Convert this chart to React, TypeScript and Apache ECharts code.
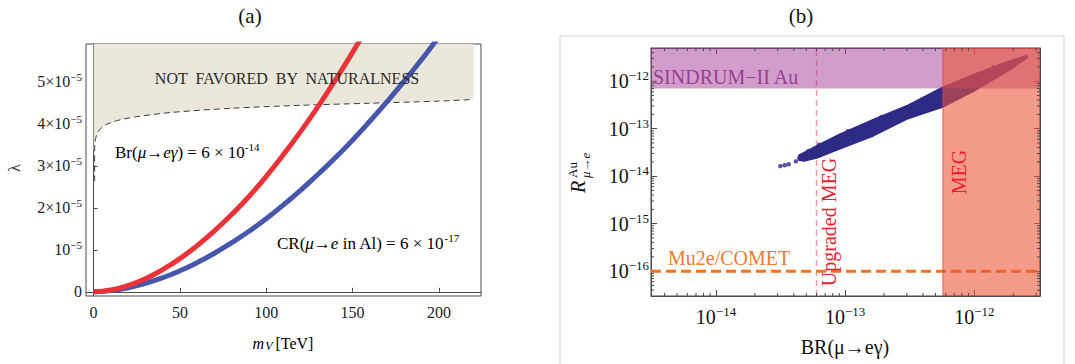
import React, { useEffect, useRef } from "react";
import * as echarts from "echarts";

const SERIF = "Liberation Serif, Times New Roman, serif";

// ---------- Panel (a) data ----------
const massRange = [-4.4, 224.4];
const lambdaRange = [-0.1e-5, 5.9e-5];
// Br(mu -> e gamma) = 6e-14 contour  [m_V (TeV), lambda]
const brCurve: [number, number][] = [
  [0, 0], [10, 0.044e-5], [20, 0.15e-5], [30, 0.31e-5], [40, 0.53e-5], [50, 0.79e-5],
  [60, 1.1e-5], [70, 1.45e-5], [80, 1.84e-5], [90, 2.27e-5], [100, 2.75e-5],
  [110, 3.27e-5], [120, 3.82e-5], [130, 4.41e-5], [140, 5.04e-5], [150, 5.7e-5], [160, 6.41e-5],
];
// CR(mu -> e in Al) = 6e-17 contour
const crCurve: [number, number][] = [
  [0, 0], [10, 0.028e-5], [20, 0.096e-5], [30, 0.2e-5], [40, 0.335e-5], [50, 0.5e-5],
  [60, 0.695e-5], [70, 0.918e-5], [80, 1.17e-5], [90, 1.44e-5], [100, 1.74e-5],
  [110, 2.07e-5], [120, 2.42e-5], [130, 2.8e-5], [140, 3.19e-5], [150, 3.61e-5],
  [160, 4.06e-5], [170, 4.53e-5], [180, 5.02e-5], [190, 5.53e-5], [200, 6.07e-5], [210, 6.6e-5],
];
// naturalness boundary (dashed)
const naturalnessBoundary: [number, number][] = [
  [0.6, 2.63e-5], [0.6, 3.35e-5], [0.9, 3.58e-5], [1.8, 3.74e-5], [3.5, 3.86e-5], [6, 3.95e-5],
  [10, 4.03e-5], [16, 4.1e-5], [25, 4.17e-5], [45, 4.27e-5], [80, 4.37e-5], [120, 4.44e-5],
  [160, 4.49e-5], [200, 4.54e-5], [220, 4.58e-5],
];
const naturalnessXMin = 0;
const naturalnessXMax = 220;

// ---------- Panel (b) data ----------
const brRange = [3.14e-15, 3.22e-12];
const rRange = [3.0e-17, 5.0e-12];
const sindrumLimit = 7e-13;
const megLimit = 5.7e-13;
const upgradedMegLimit = 6e-14;
const mu2eLimit = 1e-16;
// scan band outline [BR(mu->e gamma), R_Au]
const bandUpper: [number, number][] = [
  [4.4e-14, 2.75e-14], [5.0e-14, 3.3e-14], [6.0e-14, 4.3e-14], [9.1e-14, 7.6e-14],
  [1.66e-13, 1.55e-13], [3.0e-13, 3.0e-13], [5.6e-13, 7.2e-13], [9.8e-13, 1.36e-12],
  [1.78e-12, 2.5e-12], [2.55e-12, 3.45e-12],
];
const bandLower: [number, number][] = [
  [2.55e-12, 3.15e-12], [1.78e-12, 1.6e-12], [9.8e-13, 6.2e-13], [5.6e-13, 2.85e-13],
  [3.0e-13, 1.62e-13], [1.66e-13, 7.2e-14], [9.1e-14, 3.8e-14], [6.0e-14, 2.45e-14],
  [4.8e-14, 2.1e-14], [4.4e-14, 2.2e-14],
];
const strayPoints: [number, number][] = [
  [3.15e-14, 1.63e-14], [3.4e-14, 1.7e-14], [3.65e-14, 1.78e-14], [4.15e-14, 2.05e-14],
  [4.4e-14, 2.4e-14], [5.2e-14, 3.4e-14], [6.3e-14, 4.6e-14], [1.05e-13, 8.9e-14],
  [1.9e-13, 1.75e-13], [4.2e-13, 4.3e-13], [1.4e-12, 1.95e-12],
];
const minorBR = [
  4e-15, 5e-15, 6e-15, 7e-15, 8e-15, 9e-15,
  2e-14, 3e-14, 4e-14, 5e-14, 6e-14, 7e-14, 8e-14, 9e-14,
  2e-13, 3e-13, 4e-13, 5e-13, 6e-13, 7e-13, 8e-13, 9e-13,
  2e-12, 3e-12,
];
const minorR = [
  4e-17, 5e-17, 6e-17, 7e-17, 8e-17, 9e-17,
  2e-16, 3e-16, 4e-16, 5e-16, 6e-16, 7e-16, 8e-16, 9e-16,
  2e-15, 3e-15, 4e-15, 5e-15, 6e-15, 7e-15, 8e-15, 9e-15,
  2e-14, 3e-14, 4e-14, 5e-14, 6e-14, 7e-14, 8e-14, 9e-14,
  2e-13, 3e-13, 4e-13, 5e-13, 6e-13, 7e-13, 8e-13, 9e-13,
  2e-12, 3e-12, 4e-12,
];

const NAVY = "#2e2b86";
const AXIS = "#4a4a4a";

function lambdaLabel(v: number) {
  if (Math.abs(v) < 1e-12) return "{n|0}";
  const k = v / 1e-5;
  const r = Math.round(k);
  if (Math.abs(k - r) > 1e-6 || r < 1) return "";
  return r === 1 ? "{n|10}{s|\u22125}" : `{n|${r}\u00d710}{s|\u22125}`;
}
function logLabel(v: number) {
  const e = Math.log10(v);
  const r = Math.round(e);
  if (Math.abs(e - r) > 0.01) return "";
  return `{n|10}{s|\u2212${-r}}`;
}

const richA = {
  n: { fontFamily: SERIF, fontSize: 16, color: "#222", lineHeight: 20 },
  s: { fontFamily: SERIF, fontSize: 11, color: "#222", lineHeight: 10, verticalAlign: "top" },
};
const richB = {
  n: { fontFamily: SERIF, fontSize: 20, color: "#111", lineHeight: 24 },
  s: { fontFamily: SERIF, fontSize: 13, color: "#111", lineHeight: 11, verticalAlign: "top" },
};
const richText = {
  n: { fontFamily: SERIF, fontSize: 17, color: "#111", lineHeight: 22 },
  i: { fontFamily: SERIF, fontSize: 17, fontStyle: "italic", color: "#111", lineHeight: 22 },
  s: { fontFamily: SERIF, fontSize: 11, color: "#111", lineHeight: 10, verticalAlign: "top" },
};

export default function App() {
  const ref = useRef<HTMLDivElement>(null);
  useEffect(() => {
    if (!ref.current) return;
    const chart = echarts.init(ref.current, undefined, { renderer: "svg" });
    const option: any = {
      animation: false,
      backgroundColor: "#ffffff",
      textStyle: { fontFamily: SERIF },
      grid: [
        { left: 86, top: 44, width: 395, height: 252, show: true, borderColor: AXIS, borderWidth: 1 },
        { left: 651, top: 48, width: 389, height: 248, show: true, borderColor: AXIS, borderWidth: 1 },
      ],
      xAxis: [
        {
          gridIndex: 0, type: "value", min: massRange[0], max: massRange[1], splitNumber: 5,
          axisLine: { show: true, lineStyle: { color: AXIS } },
          axisTick: { show: true, inside: true, length: 4, lineStyle: { color: AXIS } },
          splitLine: { show: false },
          axisLabel: {
            margin: 8, showMinLabel: false, showMaxLabel: false,
            fontFamily: SERIF, fontSize: 16, color: "#222",
            formatter: (v: number) => (Math.abs(v % 50) < 1e-9 ? String(Math.round(v)) : ""),
          },
        },
        {
          gridIndex: 1, type: "log", min: brRange[0], max: brRange[1],
          axisLine: { show: true, lineStyle: { color: AXIS } },
          axisTick: { show: true, inside: true, length: 6, lineStyle: { color: AXIS } },
          splitLine: { show: false }, minorTick: { show: false },
          axisLabel: {
            margin: 9, showMinLabel: false, showMaxLabel: false,
            formatter: logLabel, rich: richB,
          },
        },
        {
          gridIndex: 1, type: "log", min: brRange[0], max: brRange[1], position: "top",
          axisLine: { show: true, lineStyle: { color: AXIS } },
          axisTick: { show: true, inside: true, length: 6, lineStyle: { color: AXIS } },
          splitLine: { show: false }, axisLabel: { show: false },
        },
      ],
      yAxis: [
        {
          gridIndex: 0, type: "value", min: lambdaRange[0], max: lambdaRange[1], splitNumber: 5,
          axisLine: { show: true, lineStyle: { color: AXIS } },
          axisTick: { show: true, inside: true, length: 4, lineStyle: { color: AXIS } },
          splitLine: { show: false },
          axisLabel: { margin: 4, showMinLabel: false, showMaxLabel: false, formatter: lambdaLabel, rich: richA },
        },
        {
          gridIndex: 1, type: "log", min: rRange[0], max: rRange[1],
          axisLine: { show: true, lineStyle: { color: AXIS } },
          axisTick: { show: true, inside: true, length: 6, lineStyle: { color: AXIS } },
          splitLine: { show: false },
          axisLabel: { margin: 2, showMinLabel: false, showMaxLabel: false, formatter: logLabel, rich: richB },
        },
        {
          gridIndex: 1, type: "log", min: rRange[0], max: rRange[1], position: "right",
          axisLine: { show: true, lineStyle: { color: AXIS } },
          axisTick: { show: true, inside: true, length: 6, lineStyle: { color: AXIS } },
          splitLine: { show: false }, axisLabel: { show: false },
        },
      ],
      series: [
        // ---- panel (a) ----
        {
          type: "custom", xAxisIndex: 0, yAxisIndex: 0, z: 1, clip: true,
          data: [[100, 5e-5]],
          renderItem: (_p: any, api: any) => {
            const pts = [
              api.coord([naturalnessXMin, lambdaRange[1]]),
              api.coord([naturalnessXMin, naturalnessBoundary[1][1]]),
              ...naturalnessBoundary.slice(1).map((p) => api.coord(p)),
              api.coord([naturalnessXMax, lambdaRange[1]]),
            ];
            return { type: "polygon", shape: { points: pts }, style: { fill: "#ebe8db" } };
          },
        },
        {
          type: "line", xAxisIndex: 0, yAxisIndex: 0, z: 3, data: naturalnessBoundary,
          showSymbol: false, smooth: 0.3,
          lineStyle: { color: "#3a3a3a", width: 1, type: [6, 4] },
        },
        {
          type: "line", xAxisIndex: 0, yAxisIndex: 0, z: 4, data: crCurve, showSymbol: false, smooth: true,
          lineStyle: { color: "#4656ab", width: 5 },
        },
        {
          type: "line", xAxisIndex: 0, yAxisIndex: 0, z: 4, data: brCurve, showSymbol: false, smooth: true,
          lineStyle: { color: "#ea3339", width: 5 },
        },
        // ---- panel (b) ----
        {
          type: "line", xAxisIndex: 1, yAxisIndex: 1, z: 2, showSymbol: false,
          data: [[upgradedMegLimit, rRange[0]], [upgradedMegLimit, rRange[1]]],
          lineStyle: { color: "#f39aa2", width: 1.5, type: [6, 4] },
        },
        {
          type: "line", xAxisIndex: 1, yAxisIndex: 1, z: 2, showSymbol: false,
          data: [[brRange[0], mu2eLimit], [brRange[1], mu2eLimit]],
          lineStyle: { color: "#f2741f", width: 3, type: [10, 5] },
        },
        {
          type: "custom", xAxisIndex: 1, yAxisIndex: 1, z: 3, clip: true,
          data: [[1e-13, 1e-13]],
          renderItem: (_p: any, api: any) => {
            const pts = [...bandUpper, ...bandLower].map((p) => api.coord(p));
            return {
              type: "polygon", shape: { points: pts },
              style: { fill: NAVY, stroke: NAVY, lineWidth: 2, lineJoin: "round" },
            };
          },
        },
        {
          type: "scatter", xAxisIndex: 1, yAxisIndex: 1, z: 3, data: strayPoints,
          symbolSize: 4.5, itemStyle: { color: NAVY },
        },
        {
          type: "custom", xAxisIndex: 1, yAxisIndex: 1, z: 5, clip: true,
          data: [[1e-13, 1e-13]],
          renderItem: (_p: any, api: any) => {
            const a = api.coord([brRange[0], rRange[1]]);
            const b = api.coord([brRange[1], sindrumLimit]);
            const c = api.coord([megLimit, rRange[1]]);
            const d = api.coord([brRange[1], rRange[0]]);
            return {
              type: "group",
              children: [
                { type: "rect", shape: { x: a[0], y: a[1], width: b[0] - a[0], height: b[1] - a[1] },
                  style: { fill: "rgba(163,62,152,0.5)" } },
                { type: "rect", shape: { x: c[0], y: c[1], width: d[0] - c[0], height: d[1] - c[1] },
                  style: { fill: "rgba(236,82,52,0.58)", stroke: "rgba(230,60,50,0.7)", lineWidth: 1 } },
              ],
            };
          },
        },
        {
          type: "custom", xAxisIndex: 1, yAxisIndex: 1, z: 6,
          data: [[1e-13, 1e-13]],
          renderItem: (p: any, api: any) => {
            const cs = p.coordSys;
            const left = cs.x, right = cs.x + cs.width, top = cs.y, bottom = cs.y + cs.height;
            const children: any[] = [];
            const st = { stroke: AXIS, lineWidth: 1 };
            minorBR.forEach((v) => {
              const x = api.coord([v, 1e-14])[0];
              children.push({ type: "line", shape: { x1: x, y1: bottom, x2: x, y2: bottom - 3 }, style: st });
              children.push({ type: "line", shape: { x1: x, y1: top, x2: x, y2: top + 3 }, style: st });
            });
            minorR.forEach((v) => {
              const y = api.coord([1e-13, v])[1];
              children.push({ type: "line", shape: { x1: left, y1: y, x2: left + 3, y2: y }, style: st });
              children.push({ type: "line", shape: { x1: right, y1: y, x2: right - 3, y2: y }, style: st });
            });
            return { type: "group", children };
          },
        },
      ],
      graphic: [
        { type: "text", x: 250, y: 16, style: { text: "(a)", fontFamily: SERIF, fontSize: 21, fill: "#111", align: "center", verticalAlign: "middle" } },
        { type: "text", x: 801, y: 16, style: { text: "(b)", fontFamily: SERIF, fontSize: 21, fill: "#111", align: "center", verticalAlign: "middle" } },
        { type: "text", x: 287, y: 78, z: 10, style: { text: "NOT  FAVORED  BY  NATURALNESS", fontFamily: SERIF, fontSize: 16, fill: "#2a2a2a", align: "center", verticalAlign: "middle" } },
        { type: "text", x: 115, y: 152, z: 10, style: { text: "{n|Br(}{i|\u03bc}{n|\u2192}{i|e\u03b3}{n|) = 6 \u00d7 10}{s|-14}", rich: richText, align: "left", verticalAlign: "middle" } },
        { type: "text", x: 277, y: 243, z: 10, style: { text: "{n|CR(}{i|\u03bc}{n|\u2192}{i|e}{n| in Al) = 6 \u00d7 10}{s|-17}", rich: richText, align: "left", verticalAlign: "middle" } },
        { type: "text", x: 14, y: 168, rotation: Math.PI / 2, style: { text: "\u03bb", fontFamily: SERIF, fontSize: 16, fill: "#333", align: "center", verticalAlign: "middle" } },
        { type: "text", x: 283, y: 343, style: {
            text: "{i|m}{v|V}{n|[TeV]}", align: "center", verticalAlign: "middle",
            rich: {
              i: { fontFamily: SERIF, fontStyle: "italic", fontSize: 16, color: "#333", lineHeight: 18 },
              v: { fontFamily: SERIF, fontStyle: "italic", fontSize: 12, color: "#333", lineHeight: 14, verticalAlign: "bottom", padding: [0, 3, 0, 1] },
              n: { fontFamily: SERIF, fontSize: 16, color: "#333", lineHeight: 18 },
            } } },
        // panel (b)
        { type: "rect", shape: { x: 560, y: 36, width: 504, height: 340 }, style: { fill: "none", stroke: "#d2d2d2", lineWidth: 1 } },
        { type: "text", x: 653, y: 77, z: 10, style: { text: "SINDRUM\u2212II Au", fontFamily: SERIF, fontSize: 20, fill: "#9b3d92", align: "left", verticalAlign: "middle" } },
        { type: "text", x: 668, y: 258, z: 10, style: { text: "Mu2e/COMET", fontFamily: SERIF, fontSize: 20, fill: "#f07a2a", align: "left", verticalAlign: "middle" } },
        { type: "text", x: 829, y: 222, z: 10, rotation: Math.PI / 2, style: { text: "Upgraded MEG", fontFamily: SERIF, fontSize: 20, fill: "#e8212e", align: "center", verticalAlign: "middle" } },
        { type: "text", x: 959, y: 172, z: 10, rotation: Math.PI / 2, style: { text: "MEG", fontFamily: SERIF, fontSize: 20, fill: "#e8212e", align: "center", verticalAlign: "middle" } },
        { type: "text", x: 845, y: 347, style: { text: "BR(\u03bc\u2192e\u03b3)", fontFamily: SERIF, fontSize: 20, fill: "#111", align: "center", verticalAlign: "middle" } },
        {
          type: "group", x: 578, y: 178, rotation: Math.PI / 2,
          children: [
            { type: "text", x: -9, y: 0, style: { text: "R", fontFamily: SERIF, fontStyle: "italic", fontSize: 20, fill: "#111", align: "center", verticalAlign: "middle" } },
            { type: "text", x: 0, y: -6, style: { text: "Au", fontFamily: SERIF, fontSize: 13, fill: "#111", align: "left", verticalAlign: "middle" } },
            { type: "text", x: 0, y: 7, style: { text: "\u03bc\u2192e", fontFamily: SERIF, fontStyle: "italic", fontSize: 13, fill: "#111", align: "left", verticalAlign: "middle" } },
          ],
        },
      ],
    };
    chart.setOption(option);
    return () => chart.dispose();
  }, []);
  return (
    <div
      ref={ref}
      style={{ position: "fixed", left: 0, top: 0, width: 1075, height: 364, background: "#fff" }}
    />
  );
}
